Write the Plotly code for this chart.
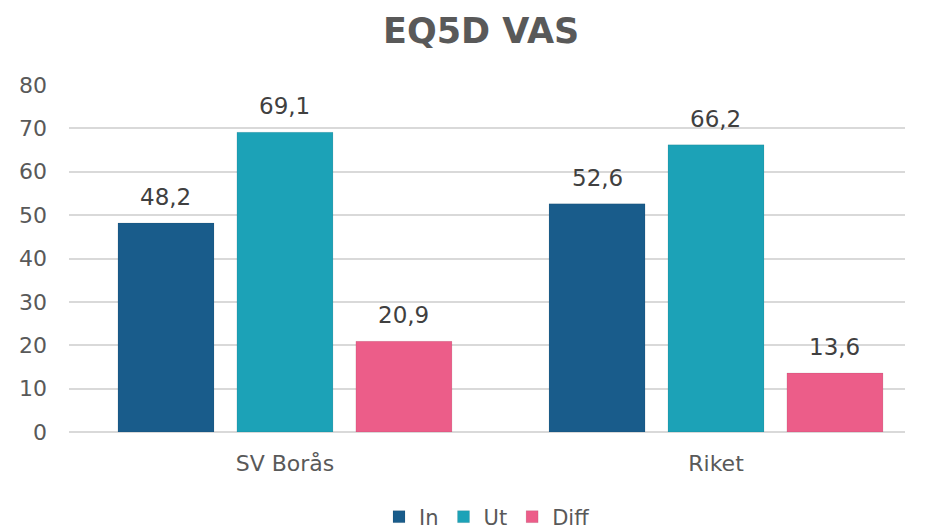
import plotly.graph_objects as go

categories = ["SV Borås", "Riket"]
series_names = ["In", "Ut", "Diff"]
values_in = [48.2, 52.6]
values_ut = [69.1, 66.2]
values_diff = [20.9, 13.6]
y_ticks = [0, 10, 20, 30, 40, 50, 60, 70, 80]

colors = ["#195c8b", "#1ca2b7", "#ec5d89"]
font = "DejaVu Sans"

bargap = 0.172
bargroupgap = 0.193
series = [values_in, values_ut, values_diff]
n = len(series)
slot = (1 - bargap) / n

fig = go.Figure()
for name, vals, col in zip(series_names, series, colors):
    fig.add_trace(go.Bar(
        x=list(range(len(categories))), y=vals, name=name,
        marker=dict(color=col, line=dict(color="rgba(0,0,0,0.08)", width=1)),
    ))

# value labels, placed over each bar through the axis scales
for k, vals in enumerate(series):
    off = (k - (n - 1) / 2) * slot
    for i, v in enumerate(vals):
        fig.add_annotation(
            x=i + off, y=v, xref="x", yref="y",
            text=f"{v:.1f}".replace(".", ","), showarrow=False,
            yanchor="middle", yshift=26,
            font=dict(family=font, size=23, color="#404040"),
        )

# page body has 8px default margin: figure sized to 917x522
fig.update_layout(
    width=917, height=522,
    separators=", ",
    barmode="group", bargap=bargap, bargroupgap=bargroupgap,
    paper_bgcolor="white", plot_bgcolor="white",
    margin=dict(l=61, r=20, t=77, b=98, autoexpand=False),
    title=dict(text="<b>EQ5D VAS</b>", x=0.516, xanchor="center", y=0.957, yref="container",
               yanchor="middle",
               font=dict(family=font, size=35, color="#595959")),
    font=dict(family=font, color="#595959"),
    legend=dict(orientation="h", x=0.5, xanchor="center", y=-0.245, yanchor="middle",
                font=dict(family=font, size=21, color="#595959"), itemwidth=30,
                traceorder="normal"),
    yaxis=dict(range=[0, 80], tickvals=y_ticks, showgrid=True, gridcolor="#d9d9d9", gridwidth=1.5,
               zeroline=True, zerolinecolor="#d9d9d9", zerolinewidth=1.5,
               tickfont=dict(family=font, size=22, color="#595959"), ticklabelstandoff=21),
    xaxis=dict(range=[-0.501, 1.4385], tickvals=list(range(len(categories))), ticktext=categories,
               tickfont=dict(family=font, size=22, color="#595959"), showline=False,
               showgrid=False, zeroline=False, ticklabelstandoff=16),
)

fig.write_html("out.html")
